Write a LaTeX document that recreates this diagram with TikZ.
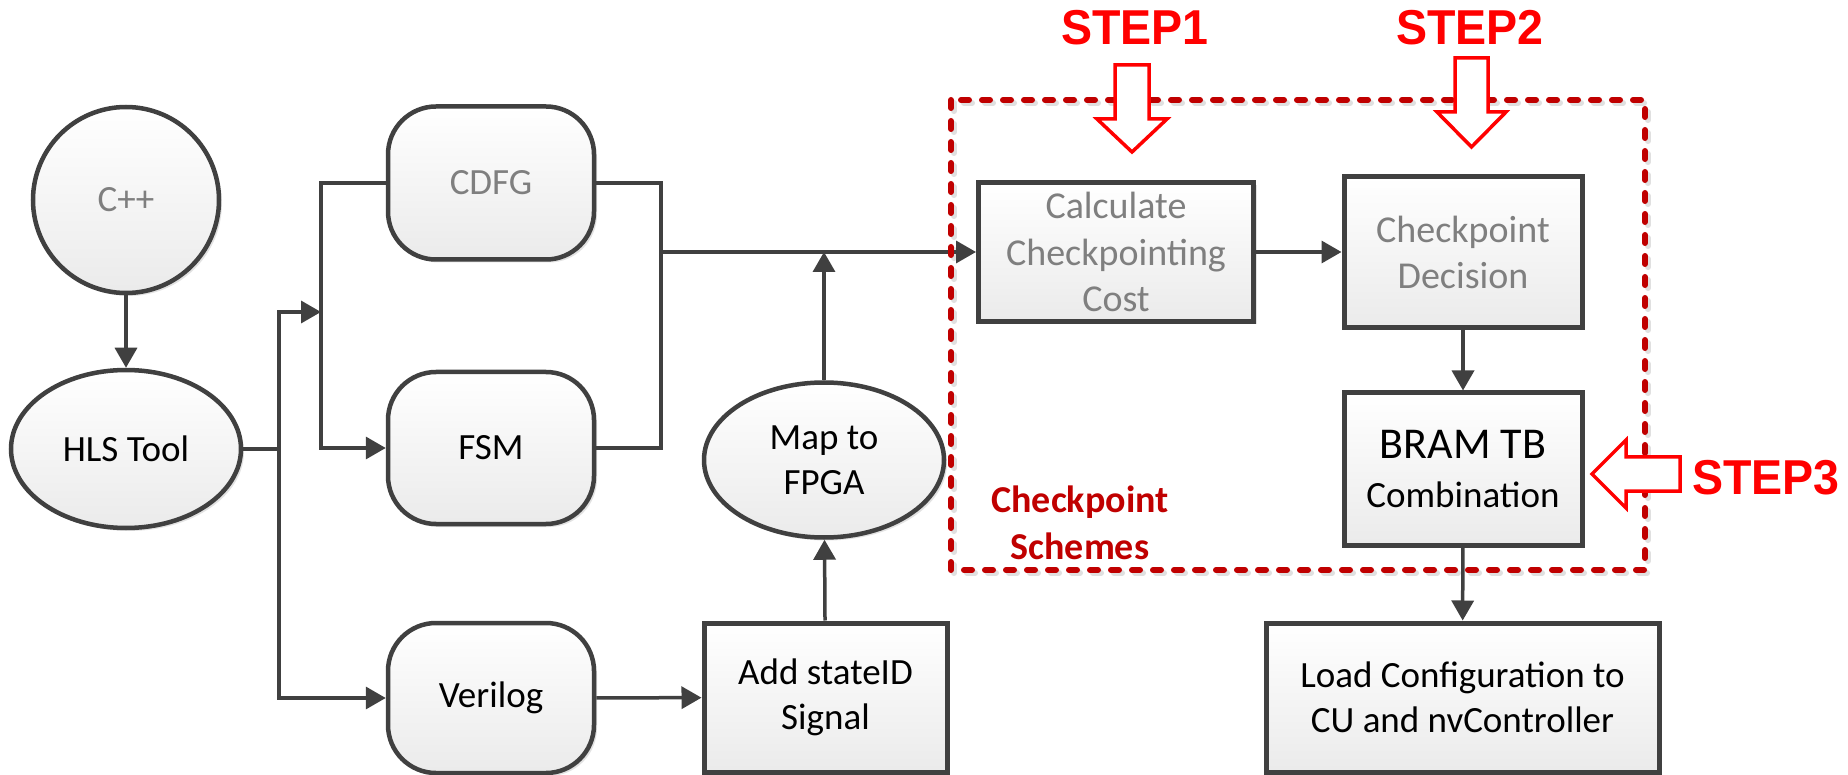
\documentclass[tikz,border=0pt]{standalone}
\usepackage{graphicx}
\usepackage{fontspec}
\setmainfont{Carlito}
\newfontfamily\stepfont{Liberation Sans}
\usetikzlibrary{shapes.geometric,arrows.meta,shadows}

\definecolor{linegray}{HTML}{404040}
\definecolor{txtgray}{HTML}{7F7F7F}
\definecolor{schemered}{HTML}{C00000}
\definecolor{stepred}{HTML}{FF0000}

% centred two-line text block, lowered by #1
\newcommand{\lowtext}[3]{\raisebox{-#1}{\parbox{#2}{\centering #3}}}

\begin{document}
\begin{tikzpicture}[x=1pt,y=-1pt,
  base/.style={draw=linegray, top color=white, bottom color=black!8,
    font=\fontsize{37}{45}\selectfont, align=center, inner sep=0pt,
    drop shadow={shadow xshift=3pt, shadow yshift=-3pt, fill=black!22}},
  oval/.style={base, ellipse, line width=4.5pt},
  rbox/.style={base, rectangle, rounded corners=48pt, line width=4.5pt},
  sbox/.style={base, rectangle, line width=5pt},
  conn/.style={draw=linegray, line width=3.5pt},
  arr/.style={conn, -{Triangle[length=20pt,width=22pt]}},
  steplabel/.style={text=stepred, inner sep=0pt,
    font=\stepfont\bfseries\fontsize{49}{49}\selectfont},
  hollow/.style={draw=stepred, fill=white, line width=3.5pt, line join=miter},
  frame/.style={line width=6pt, dash pattern=on 8pt off 13pt, line cap=round}
]
\fill[white] (0,0) rectangle (1848,775);
\useasboundingbox (0,0) rectangle (1848,775);

% ---- tool flow nodes ----
\node[oval, minimum width=186pt, minimum height=186pt, text=txtgray] (cpp) at (126,200) {C++};
\node[oval, minimum width=230pt, minimum height=158pt] (hls) at (126,449) {HLS Tool};
\node[rbox, minimum width=206pt, minimum height=153pt, text=txtgray] (cdfg) at (491,183) {CDFG};
\node[rbox, minimum width=206pt, minimum height=152pt] (fsm) at (491,448) {FSM};
\node[rbox, minimum width=206pt, minimum height=150pt] (verilog) at (491,698) {Verilog};
\node[oval, minimum width=240pt, minimum height=155pt] (map) at (824,460)
  {\lowtext{7pt}{120pt}{Map to\\FPGA}};
\node[sbox, minimum width=243pt, minimum height=149pt] (addid) at (825.5,697.5)
  {\lowtext{3pt}{230pt}{Add stateID\\Signal}};

% ---- checkpoint scheme frame (shadow) ----
\draw[frame, black!12] (954,103) rectangle (1648,573);

% ---- checkpoint scheme nodes ----
\node[sbox, minimum width=275pt, minimum height=139pt, text=txtgray,
  font=\fontsize{38}{46.5}\selectfont] (calc) at (1116,252) {Calculate\\Checkpointing\\Cost};
\node[sbox, minimum width=238pt, minimum height=151pt, text=txtgray,
  font=\fontsize{38}{46}\selectfont] (decision) at (1463,252) {Checkpoint\\Decision};
\node[sbox, minimum width=238pt, minimum height=152pt] (bram) at (1463,469)
  {\lowtext{5pt}{230pt}{\fontsize{44}{49}\selectfont BRAM TB\\\fontsize{37}{49}\selectfont Combination}};
\node[sbox, minimum width=393pt, minimum height=149pt] (load) at (1462.5,697.5)
  {Load Configuration to\\CU and nvController};

\node[text=schemered, align=center, inner sep=0pt,
  font=\bfseries\fontsize{38}{47}\selectfont] (schemelbl) at (1080,523) {Checkpoint\\Schemes};

% ---- connectors ----
\coordinate (hlsfork) at (279,449);
\coordinate (upfork) at (321,312);
\coordinate (merge) at (661,252);

\draw[arr] (cpp) -- (hls);
\draw[arr] (hls.east) -- (hlsfork) |- (upfork);
\draw[arr] (hlsfork) |- (verilog.west);
\draw[arr] (cdfg.west) -- (cdfg.west -| upfork) |- (fsm.west);
\draw[conn] (cdfg.east) -| (merge) |- (fsm.east);
\draw[arr] (merge) -- (calc.west);
\draw[arr] (verilog) -- (addid);
\draw[arr] (addid) -- (map);
\draw[arr] (map.north) -- (map.north |- merge);
\draw[arr] (calc) -- (decision);
\draw[arr] (decision) -- (bram);
\draw[arr] (bram) -- (load);

\draw[frame, schemered] (951,100) rectangle (1645,570);

% ---- step markers ----
\node[steplabel] (step1) at (1135,28) {\scalebox{0.95}[1]{STEP1}};
\node[steplabel] (step2) at (1470,28) {\scalebox{0.95}[1]{STEP2}};
\node[steplabel] (step3) at (1766,478) {\scalebox{0.95}[1]{STEP3}};

\draw[hollow] (1115,65) -- (1149,65) -- (1149,119) -- (1167,119) -- (1132,152)
  -- (1097,119) -- (1115,119) -- cycle;
\draw[hollow] (1455,58) -- (1488,58) -- (1488,112) -- (1506,112) -- (1471.5,147)
  -- (1437,112) -- (1455,112) -- cycle;
\draw[hollow] (1680,457) -- (1626,457) -- (1626,440) -- (1592,474) -- (1626,508)
  -- (1626,491) -- (1680,491) -- cycle;
\end{tikzpicture}
\end{document}
